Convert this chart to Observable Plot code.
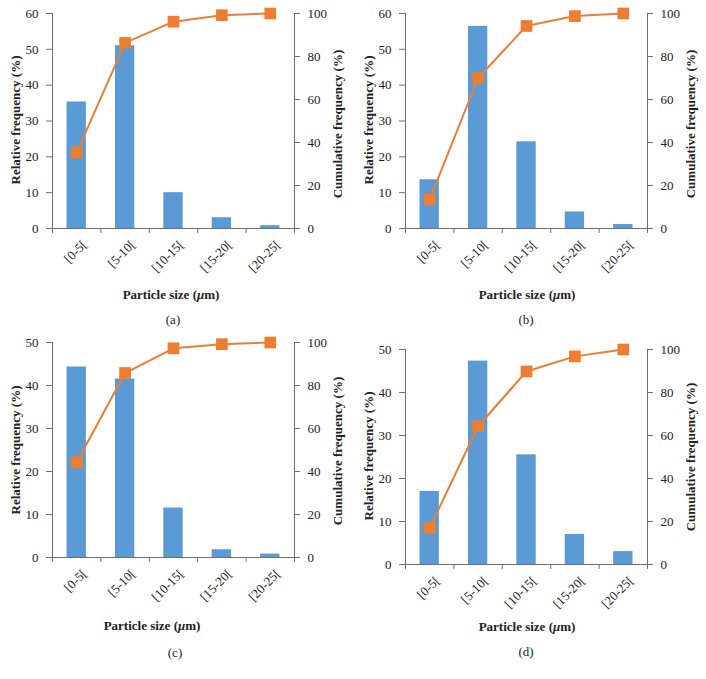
<!DOCTYPE html>
<html>
<head>
<meta charset="utf-8">
<script src="https://cdn.jsdelivr.net/npm/d3@7"></script>
<script src="https://cdn.jsdelivr.net/npm/@observablehq/plot@0.6"></script>
<style>
  html, body { margin: 0; padding: 0; background: #fff; }
  #root { position: relative; width: 706px; height: 679px; overflow: hidden; font-family: "Liberation Serif", "DejaVu Serif", serif; color: #222; }
  .panel { position: absolute; }
  .lbl { position: absolute; white-space: nowrap; transform: translate(-50%, -50%); font-size: 13px; color: #222; }
  .bold { font-weight: bold; }
  .rot { transform: translate(-50%, -50%) rotate(-90deg); }
</style>
</head>
<body>
<div id="root"></div>
<script>
// ---- data ----
const categories = ["[0-5[", "[5-10[", "[10-15[", "[15-20[", "[20-25["];
const relA = [35.3, 51.0, 10.0, 3.0, 0.8];
const cumA = [35.3, 86.3, 96.2, 99.2, 100];
const relB = [13.6, 56.4, 24.2, 4.6, 1.1];
const cumB = [13.6, 70.0, 94.2, 98.8, 100];
const relC = [44.3, 41.5, 11.5, 1.8, 0.8];
const cumC = [44.3, 85.8, 97.3, 99.2, 100];
const relD = [17.0, 47.3, 25.5, 7.0, 3.0];
const cumD = [17.0, 64.3, 89.8, 96.8, 100];
const leftMax = [60, 60, 50, 50];
const leftStep = 10;
const rightTicks = [0, 20, 40, 60, 80, 100];
const panelLabels = ["(a)", "(b)", "(c)", "(d)"];
const yTitleLeft = "Relative frequency (%)";
const yTitleRight = "Cumulative frequency (%)";

// ---- styles ----
const BLUE = "#5B9BD5";
const ORANGE = "#ED7D31";
const AXIS = "#6f6f6f";
const FONT = "'Liberation Serif', 'DejaVu Serif', serif";

const root = document.getElementById("root");

function makePanel(rel, cum, max, pos) {
  const rows = categories.map((c, i) => ({i, cat: c, rel: rel[i], cum: cum[i]}));
  const toLeft = v => v * max / 100;
  const chart = Plot.plot({
    width: 353,
    height: 283,
    marginLeft: 52,
    marginRight: 59,
    marginTop: 13,
    marginBottom: 55,
    style: {fontFamily: FONT, fontSize: "13px", color: "#222", background: "transparent", overflow: "visible"},
    x: {domain: [0, categories.length], axis: null},
    y: {domain: [0, max], axis: null},
    marks: [
      Plot.rectY(rows, {x1: d => d.i + 0.3, x2: d => d.i + 0.7, y: "rel", fill: BLUE}),
      Plot.ruleY([0], {stroke: AXIS, strokeWidth: 1}),
      Plot.ruleX([0], {stroke: AXIS, strokeWidth: 1}),
      Plot.ruleX([categories.length], {stroke: AXIS, strokeWidth: 1}),
      Plot.axisX(d3.range(0, categories.length + 1), {tickSize: 5, tickFormat: () => "", stroke: AXIS, label: null}),
      Plot.axisX(rows.map(d => d.i + 0.5), {tickSize: 0, tickPadding: 14, dx: 8, tickRotate: -45, tickFormat: d => categories[Math.floor(d)], fill: "#222", label: null}),
      Plot.axisY(d3.range(0, max + 1, leftStep), {anchor: "left", tickSize: 6, tickPadding: 8, stroke: AXIS, fill: "#222", label: null}),
      Plot.axisY(rightTicks.map(toLeft), {anchor: "right", tickSize: 5, tickPadding: 8, stroke: AXIS, fill: "#222", tickFormat: d => Math.round(d * 100 / max), label: null}),
      Plot.line(rows, {x: d => d.i + 0.5, y: d => toLeft(d.cum), stroke: ORANGE, strokeWidth: 2}),
      Plot.dot(rows, {x: d => d.i + 0.5, y: d => toLeft(d.cum), symbol: "square", r: 6.6, fill: ORANGE, stroke: "none"})
    ]
  });
  const wrap = document.createElement("div");
  wrap.className = "panel";
  wrap.style.left = pos.left + "px";
  wrap.style.top = pos.top + "px";
  wrap.appendChild(chart);
  root.appendChild(wrap);

  const add = (html, x, y, cls) => {
    const d = document.createElement("div");
    d.className = "lbl " + cls;
    d.style.left = x + "px";
    d.style.top = y + "px";
    d.innerHTML = html;
    root.appendChild(d);
  };
  add(yTitleLeft, pos.lt[0], pos.lt[1], "bold rot");
  add(yTitleRight, pos.rt[0], pos.rt[1], "bold rot");
  add('Particle size (<i>μ</i>m)', pos.xt[0], pos.xt[1], "bold");
  add(pos.cap, pos.cp[0], pos.cp[1], "");
}

makePanel(relA, cumA, leftMax[0], {left: 0, top: 0, lt: [15.5, 120], rt: [338, 124], xt: [171, 295], cp: [173, 320], cap: panelLabels[0]});
makePanel(relB, cumB, leftMax[1], {left: 353, top: 0, lt: [368.5, 120], rt: [691, 124], xt: [527, 295], cp: [526, 320], cap: panelLabels[1]});
makePanel(relC, cumC, leftMax[2], {left: 0, top: 329, lt: [15.5, 450], rt: [338, 451], xt: [152, 626], cp: [175, 653], cap: panelLabels[2]});
makePanel(relD, cumD, leftMax[3], {left: 353, top: 336, lt: [369, 456], rt: [691, 457], xt: [527, 627], cp: [526, 652], cap: panelLabels[3]});
</script>
</body>
</html>
